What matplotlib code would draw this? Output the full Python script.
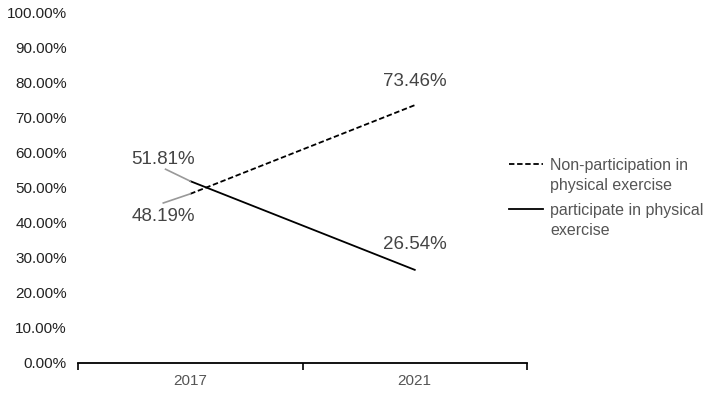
import matplotlib.pyplot as plt
from matplotlib.lines import Line2D
from matplotlib.ticker import FuncFormatter

# datos
anios = ["2017", "2021"]
no_participa = [48.19, 73.46]
participa = [51.81, 26.54]
serie_no = "Non-participation in\nphysical exercise"
serie_si = "participate in physical\nexercise"

plt.rcParams['font.family'] = ['Liberation Sans', 'DejaVu Sans']

fig = plt.figure(figsize=(7.08, 3.94), dpi=100)
ax = fig.add_axes([78/708, 1-363/394, 449/708, 351/394])

estilo_no = dict(color='black', linestyle=(0, (3, 1.5)), linewidth=1.3)
estilo_si = dict(color='black', linestyle='-', linewidth=1.3)

x = list(range(len(anios)))
ax.plot(x, no_participa, **estilo_no)
ax.plot(x, participa, **estilo_si)

ax.set_xlim(-0.5, 1.5)
ax.set_ylim(0, 100)
ax.set_yticks(range(0, 101, 10))
ax.yaxis.set_major_formatter(FuncFormatter(lambda v, p: f"{v:.2f}%"))
ax.set_xticks(x)
ax.set_xticklabels(anios)
ax.set_xticks([-0.5, 0.5, 1.5], minor=True)
ax.tick_params(axis='x', which='major', length=0, pad=8, labelsize=11, labelcolor='#555555')
ax.tick_params(axis='x', which='minor', length=5, width=1.2, color='black', direction='out')
ax.tick_params(axis='y', length=0, pad=8, labelsize=11, labelcolor='#222222')
for s in ['top', 'right', 'left']:
    ax.spines[s].set_visible(False)
ax.spines['bottom'].set_linewidth(1.3)

# etiquetas de datos
color_txt = '#444444'
ax.text(-0.12, participa[0] + 6.1, f"{participa[0]:.2f}%", ha='center', va='center',
        fontsize=13.5, color=color_txt)
ax.text(-0.12, no_participa[0] - 6.4, f"{no_participa[0]:.2f}%", ha='center', va='center',
        fontsize=13.5, color=color_txt)
ax.plot([-0.11, 0], [participa[0] + 3.4, participa[0]], color='#999999', linewidth=1.2)
ax.plot([-0.12, 0], [no_participa[0] - 2.6, no_participa[0]], color='#999999', linewidth=1.2)
ax.text(1, no_participa[1] + 6.7, f"{no_participa[1]:.2f}%", ha='center', va='center',
        fontsize=13.5, color=color_txt)
ax.text(1, participa[1] + 7.3, f"{participa[1]:.2f}%", ha='center', va='center',
        fontsize=13.5, color=color_txt)

# leyenda a mano, la muestra alineada con la primera linea del texto
for (estilo, texto, ytop) in [(estilo_no, serie_no, 164), (estilo_si, serie_si, 209)]:
    fig.add_artist(Line2D([509/708, 543/708], [1-ytop/394, 1-ytop/394], **estilo))
    fig.text(550/708, 1-(ytop-6)/394, texto, ha='left', va='top', fontsize=11.5,
             color='#555555', linespacing=1.4)

fig.savefig('out.png', dpi=100)
